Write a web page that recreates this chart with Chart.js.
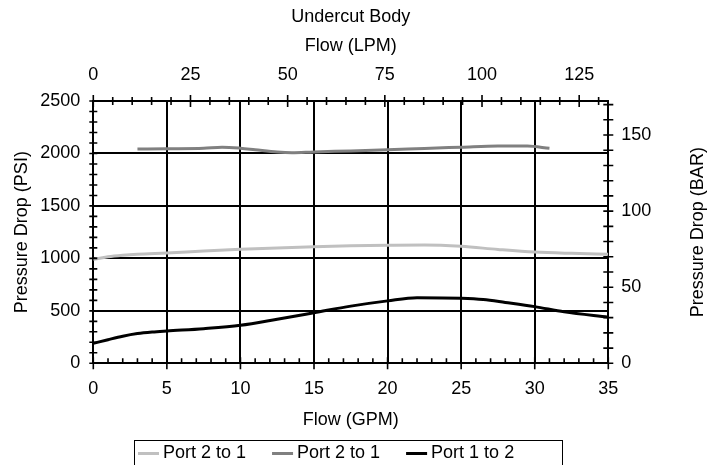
<!DOCTYPE html>
<html><head><meta charset="utf-8">
<script src="https://cdn.jsdelivr.net/npm/chart.js@4.4.1/dist/chart.umd.min.js"></script>
<style>html,body{margin:0;padding:0;background:#fff;}canvas{display:block;}</style>
</head><body>
<canvas id="c" width="722" height="465"></canvas>
<script>
// ---- text ----
const topTitle = ['Undercut Body', 'Flow (LPM)'];
const xTitle = 'Flow (GPM)';
const yTitle = 'Pressure Drop (PSI)';
const y2Title = 'Pressure Drop (BAR)';
const seriesNames = ['Port 2 to 1', 'Port 2 to 1', 'Port 1 to 2'];
const seriesColors = ['#c0c0c0', '#808080', '#000000'];

// ---- data (GPM, PSI) ----
const lightGpm = [0, 1, 2, 3, 5, 7.5, 10, 12.5, 15, 17.5, 20, 22.5, 25, 27.5, 30, 32.5, 35];
const lightPsi = [990, 1015, 1030, 1040, 1052, 1070, 1086, 1100, 1112, 1120, 1125, 1128, 1115, 1085, 1060, 1048, 1040];
const grayGpm = [3, 5, 7.5, 8.75, 10, 11, 12.5, 13.5, 15, 17.5, 20, 22.5, 25, 27.5, 29.5, 31];
const grayPsi = [2042, 2045, 2050, 2060, 2050, 2035, 2013, 2007, 2015, 2024, 2035, 2048, 2060, 2072, 2070, 2050];
const blackGpm = [0, 1, 2, 3, 4, 5, 7.5, 10, 12.5, 15, 17.5, 20, 22, 25, 26.5, 28, 30, 32, 35];
const blackPsi = [190, 225, 258, 283, 298, 308, 330, 362, 420, 482, 545, 595, 625, 620, 608, 580, 540, 490, 440];

// ---- axes ----
const gpmMin = 0, gpmMax = 35, gpmStep = 1, gpmLabelStep = 5;
const psiMin = 0, psiMax = 2500, psiStep = 100, psiLabelStep = 500;
const lpmStep = 5, lpmLabelStep = 25;
const barStep = 10, barLabelStep = 50;
const LPM_PER_GPM = 3.78541;
const PSI_PER_BAR = 14.5038;

const FONT = "'Liberation Sans', Arial, Helvetica, sans-serif";
Chart.defaults.font.family = FONT;
Chart.defaults.font.size = 18;
Chart.defaults.color = '#000';

const pts = (xs, ys) => xs.map((x, i) => ({x, y: ys[i]}));
const isMul = (v, m) => Math.abs(v / m - Math.round(v / m)) < 1e-6;

const tickMarks = {
  id: 'tickMarks',
  afterDraw(chart) {
    const ctx = chart.ctx, a = chart.chartArea, s = chart.scales;
    ctx.save();
    ctx.strokeStyle = '#000';
    ctx.lineWidth = 1.6;
    ctx.beginPath();
    s.y.ticks.forEach(t => {
      const p = s.y.getPixelForValue(t.value);
      ctx.moveTo(a.left - 4, p); ctx.lineTo(a.left + 4, p);
    });
    s.x.ticks.forEach(t => {
      const p = s.x.getPixelForValue(t.value);
      if (isMul(t.value, gpmLabelStep)) { ctx.moveTo(p, a.bottom - 6); ctx.lineTo(p, a.bottom + 6); }
      else { ctx.moveTo(p, a.bottom - 5); ctx.lineTo(p, a.bottom); }
    });
    s.x2.ticks.forEach(t => {
      const p = s.x2.getPixelForValue(t.value);
      const L = isMul(t.value, lpmLabelStep) ? 6 : 4;
      ctx.moveTo(p, a.top - L); ctx.lineTo(p, a.top + L);
    });
    s.y2.ticks.forEach(t => {
      const p = s.y2.getPixelForValue(t.value);
      ctx.moveTo(a.right - 5, p); ctx.lineTo(a.right + 5, p);
    });
    ctx.stroke();

    // right axis title (reads bottom to top)
    ctx.fillStyle = '#000';
    ctx.font = '18px ' + FONT;
    ctx.textAlign = 'center';
    ctx.textBaseline = 'middle';
    ctx.save();
    ctx.translate(s.y2.right - 24, (a.top + a.bottom) / 2);
    ctx.rotate(-Math.PI / 2);
    ctx.fillText(y2Title, 0, 0);
    ctx.restore();

    // legend box
    const boxL = 134, boxR = 562, boxT = 440.5;
    ctx.lineWidth = 1;
    ctx.strokeRect(boxL + 0.5, boxT, boxR - boxL, chart.height - boxT + 5);
    const ly = 453.5;
    let x = boxL + 4;
    chart.data.datasets.forEach(ds => {
      ctx.fillStyle = ds.borderColor;
      ctx.fillRect(x, ly - 1.5, 21, 3);
      ctx.fillStyle = '#000';
      ctx.textAlign = 'left';
      ctx.fillText(ds.label, x + 25, ly);
      x += 25 + ctx.measureText(ds.label).width + 26;
    });
    ctx.restore();
  }
};

new Chart(document.getElementById('c'), {
  type: 'line',
  data: {
    datasets: [
      {label: seriesNames[0], data: pts(lightGpm, lightPsi), borderColor: seriesColors[0]},
      {label: seriesNames[1], data: pts(grayGpm, grayPsi), borderColor: seriesColors[1]},
      {label: seriesNames[2], data: pts(blackGpm, blackPsi), borderColor: seriesColors[2]}
    ].map(d => Object.assign(d, {borderWidth: 3, pointRadius: 0, fill: false,
      cubicInterpolationMode: 'monotone', xAxisID: 'x', yAxisID: 'y'}))
  },
  options: {
    responsive: false,
    animation: false,
    devicePixelRatio: 1,
    layout: {padding: 0},
    plugins: {legend: {display: false}, tooltip: {enabled: false}, title: {display: false}},
    scales: {
      x: {
        type: 'linear', position: 'bottom', min: gpmMin, max: gpmMax,
        ticks: {stepSize: gpmStep, autoSkip: false, maxRotation: 0, includeBounds: false, padding: 15,
          callback: v => isMul(v, gpmLabelStep) ? v : ''},
        grid: {drawTicks: false, lineWidth: 2,
          color: c => (c.tick && isMul(c.tick.value, gpmLabelStep)) ? '#000' : 'rgba(0,0,0,0)'},
        border: {display: true, color: '#000', width: 2},
        title: {display: true, text: xTitle, padding: {top: 0, bottom: 34}},
        afterFit: s => { s.height = 465 - 363.3; }
      },
      x2: {
        type: 'linear', position: 'top', min: gpmMin * LPM_PER_GPM, max: gpmMax * LPM_PER_GPM,
        ticks: {stepSize: lpmStep, autoSkip: false, maxRotation: 0, includeBounds: false, padding: 15,
          callback: v => isMul(v, lpmLabelStep) ? v : ''},
        grid: {drawTicks: false, drawOnChartArea: false},
        border: {display: true, color: '#000', width: 2},
        title: {display: true, text: topTitle, font: {size: 18, lineHeight: 29 / 18}, padding: {top: 3, bottom: 0}},
        afterFit: s => { s.height = 101; }
      },
      y: {
        type: 'linear', position: 'left', min: psiMin, max: psiMax,
        ticks: {stepSize: psiStep, autoSkip: false, includeBounds: false, padding: 13,
          callback: v => isMul(v, psiLabelStep) ? v : ''},
        grid: {drawTicks: false, lineWidth: 2,
          color: c => (c.tick && isMul(c.tick.value, psiLabelStep)) ? '#000' : 'rgba(0,0,0,0)'},
        border: {display: true, color: '#000', width: 2},
        title: {display: true, text: yTitle, padding: {top: 11, bottom: 0}},
        afterFit: s => { s.width = 93.3; }
      },
      y2: {
        type: 'linear', position: 'right', min: psiMin / PSI_PER_BAR, max: psiMax / PSI_PER_BAR,
        ticks: {stepSize: barStep, autoSkip: false, includeBounds: false, padding: 13,
          callback: v => isMul(v, barLabelStep) ? v : ''},
        grid: {drawTicks: false, drawOnChartArea: false},
        border: {display: true, color: '#000', width: 2},
        title: {display: false},
        afterFit: s => { s.width = 722 - 608.3; }
      }
    }
  },
  plugins: [tickMarks]
});
</script>
</body></html>
